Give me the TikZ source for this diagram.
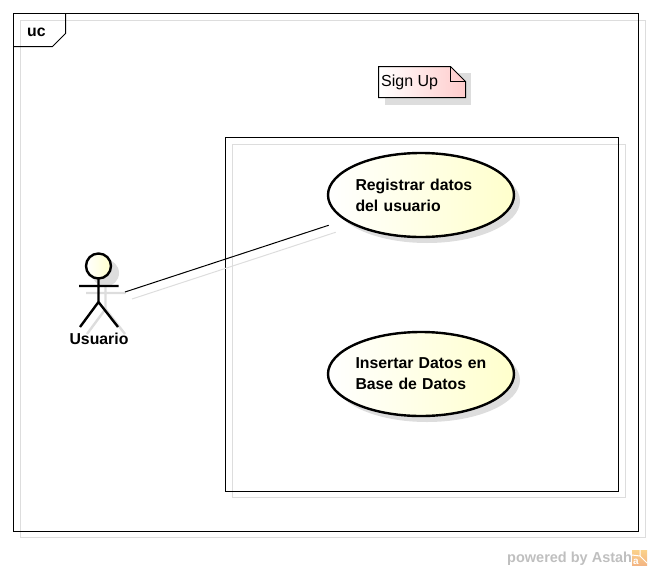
\documentclass[tikz,border=0pt]{standalone}
\usepackage{fontspec}
\setmainfont{Liberation Sans}
\usepackage{xcolor}
\usetikzlibrary{shapes.geometric, shadows, calc}

\definecolor{shadowgray}{HTML}{DDDDDD}
\definecolor{usecaseyellow}{HTML}{FFFFCC}
\definecolor{notepink}{HTML}{FFCCCC}
\definecolor{logotop}{HTML}{FBD28A}
\definecolor{logobottom}{HTML}{F3B583}

\tikzset{
	frameline/.style={draw=black, line width=1pt},
	shadowline/.style={draw=shadowgray, line width=1pt},
	actorline/.style={line width=2.4pt},
	boldlabel/.style={font=\fontsize{15.8}{21}\selectfont\bfseries, inner sep=0pt},
	usecase/.style={ellipse, draw=black, line width=2.4pt, minimum width=186pt, minimum height=84pt,
		inner sep=0pt, text width=131pt, align=left, left color=white, right color=usecaseyellow,
		boldlabel, copy shadow={shadow xshift=6pt, shadow yshift=-6pt, draw=none, fill=shadowgray}},
}

\newcommand{\stickman}{
	(98.5,279) to (98.5,302)
	(79,286) to (118.5,286)
	(98.5,302) to (80,327)
	(98.5,302) to (118,327)
}

\begin{document}
\begin{tikzpicture}[x=1pt, y=-1pt]
	\useasboundingbox (0,0) rectangle (652,570);

	\draw [shadowline] (20.5,20.5) rectangle (645.5,537.5);
	\draw [frameline] (13.5,13.5) rectangle (638.5,531.5);
	\draw [frameline] (13.5,46.5) to (52.5,46.5) to (65.5,33.5) to (65.5,13.5);
	\node [boldlabel, anchor=base west] (uctag) at (27,36) {uc};

	\fill [shadowgray] (385,73) rectangle (471,105);
	\draw [frameline, left color=white, right color=notepink] (378.5,66.5) to (450.5,66.5) to (465.5,81.5) to (465.5,97.5) to (378.5,97.5) -- cycle;
	\draw [frameline] (450.5,66.5) to (450.5,81.5) to (465.5,81.5);
	\node [font=\fontsize{16}{18}\selectfont, inner sep=0pt, anchor=base west] (signup) at (381,86) {Sign Up};

	\draw [shadowline] (232.5,144.5) rectangle (625.5,497.5);
	\draw [frameline] (225.5,137.5) rectangle (618.5,491.5);

	\node [usecase] (regdatos) at (421,195) {\mbox{Registrar datos}\\\mbox{del usuario}};
	\node [usecase] (insdatos) at (421,374) {\mbox{Insertar Datos en}\\\mbox{Base de Datos}};

	\draw [shadowline, line width=2.4pt, shift={(7,7)}] \stickman;
	\fill [shadowgray] (105.5,273) circle (13.5);
	\draw [actorline] \stickman;
	\node [circle, draw=black, line width=2.4pt, minimum size=25pt, inner sep=0pt, left color=white, right color=usecaseyellow] (usuariohead) at (98.5,266) {};
	\node [boldlabel] (usuario) at (99,338.5) {Usuario};

	\coordinate (usuarioport) at (125,292);
	\draw [frameline, shorten >=16.5pt] (usuarioport) to (regdatos);
	\draw [shadowline, shorten >=16.5pt, transform canvas={xshift=7pt, yshift=-7pt}] (usuarioport) to (regdatos);

	\node [font=\fontsize{14.5}{16}\selectfont\bfseries, text=black!25, inner sep=0pt, anchor=base west] (powered) at (507,562) {powered by Astah};
	\fill [top color=logotop, bottom color=logobottom] (632,550) rectangle (647,565);
	\draw [white, line width=1pt] (640,550) to (640,556) (640,556) to (647,563) (632,555) to (640,556);
	\node [font=\fontsize{10}{10}\selectfont\bfseries, text=white, inner sep=0pt, anchor=base] (logoa) at (636,564) {a};
\end{tikzpicture}
\end{document}
